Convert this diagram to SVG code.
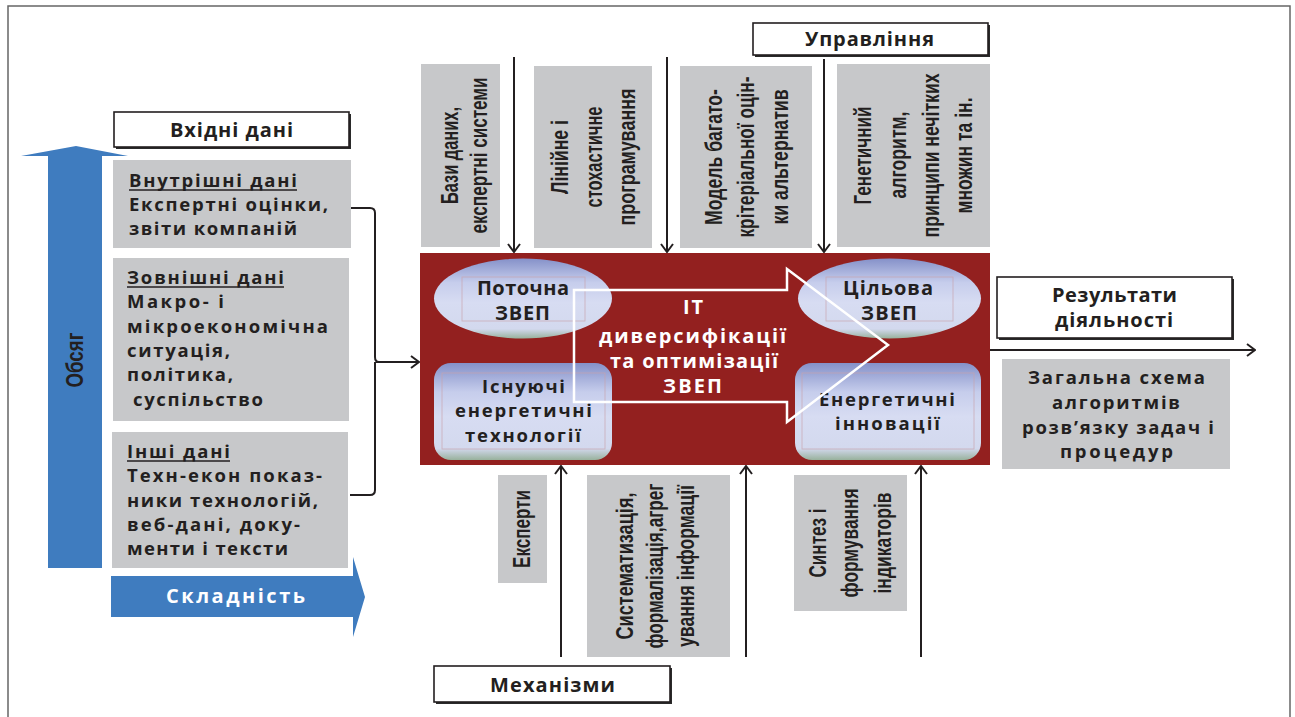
<svg xmlns="http://www.w3.org/2000/svg" width="1295" height="717" viewBox="0 0 1295 717">
<defs>
<style>
.t{font-family:"Open Sans","DejaVu Sans",sans-serif;font-weight:700;font-size:20px;fill:#231f20}
.s{font-size:18.5px}
.w{fill:#ffffff}
.r{font-family:"Liberation Sans",Arial,sans-serif;font-weight:700;font-size:23px;fill:#231f20}
.gray{fill:#c7c8ca}
.blue{fill:#3f7cbf}
.lbl{fill:#ffffff;stroke:#231f20;stroke-width:1.6}
.sh{fill:#2a2a2a}
.con{fill:none;stroke:#231f20;stroke-width:2}
.ul{stroke:#231f20;stroke-width:1.4}
.faint{fill:none;stroke:#c9a3ab;stroke-width:0.8;opacity:0.8}
</style>
<linearGradient id="bev" x1="0" y1="0" x2="0" y2="1">
<stop offset="0" stop-color="#8591c9"/>
<stop offset="0.3" stop-color="#c6cdec"/>
<stop offset="0.55" stop-color="#d7dcf2"/>
<stop offset="0.88" stop-color="#d3d9ee"/>
<stop offset="1" stop-color="#98b19c"/>
</linearGradient>
<marker id="ah" viewBox="0 0 10 14" refX="9" refY="7" markerWidth="10" markerHeight="14" markerUnits="userSpaceOnUse" orient="auto">
<path d="M1,1 L9,7 L1,13" fill="none" stroke="#231f20" stroke-width="2"/>
</marker>
</defs>
<rect width="1295" height="717" fill="#ffffff"/>
<rect x="8" y="6" width="1282" height="730" fill="none" stroke="#666" stroke-width="1.5"/>

<g id="vhidni">
<rect class="sh" x="116" y="114" width="235" height="35"/>
<rect class="lbl" x="114" y="112" width="235" height="35"/>
<text class="t" x="170" y="137" textLength="123">Вхідні дані</text>
</g>

<g id="obsyag">
<polygon class="blue" points="48,568 48,156 21,156 76,146 128,156 102,156 102,568"/>
<text class="r w" font-size="26" transform="translate(83,387.5) rotate(-90)" textLength="55" lengthAdjust="spacingAndGlyphs">Обсяг</text>
</g>

<g id="skladnist">
<polygon class="blue" points="111,576 353,576 353,557 365,597 353,637 353,617 111,617"/>
<text class="t w" font-size="23" x="166" y="603" textLength="139">Складність</text>
</g>

<g id="vnutrishni">
<rect class="gray" x="113" y="160" width="238" height="88"/>
<text class="t s" x="129" y="187" textLength="168">Внутрішні дані</text>
<line class="ul" x1="129" y1="190" x2="297" y2="190"/>
<text class="t s" x="129" y="211" textLength="199">Експертні оцінки,</text>
<text class="t s" x="129" y="235" textLength="168">звіти компаній</text>
</g>

<g id="zovnishni">
<rect class="gray" x="113" y="258" width="236" height="163"/>
<text class="t s" x="127" y="284" textLength="157">Зовнішні дані</text>
<line class="ul" x1="127" y1="287" x2="284" y2="287"/>
<text class="t s" x="127" y="308" textLength="97">Макро- і</text>
<text class="t s" x="127" y="333" textLength="201">мікроекономічна</text>
<text class="t s" x="127" y="357" textLength="103">ситуація,</text>
<text class="t s" x="127" y="381" textLength="106">політика,</text>
<text class="t s" x="133" y="406" textLength="130">суспільство</text>
</g>

<g id="inshi">
<rect class="gray" x="112" y="432" width="236" height="136"/>
<text class="t s" x="127" y="458" textLength="103">Інші дані</text>
<line class="ul" x1="127" y1="461" x2="230" y2="461"/>
<text class="t s" x="127" y="482" textLength="195">Техн-екон показ-</text>
<text class="t s" x="127" y="507" textLength="191">ники технологій,</text>
<text class="t s" x="127" y="531" textLength="173">веб-дані, доку-</text>
<text class="t s" x="127" y="555" textLength="161">менти і тексти</text>
</g>

<g id="upravlinnya">
<rect class="sh" x="755" y="25" width="235" height="32"/>
<rect class="lbl" x="753" y="23" width="235" height="32"/>
<text class="t" x="805" y="46" textLength="129">Управління</text>
</g>

<g id="bazy">
<rect class="gray" x="421" y="64" width="79" height="183"/>
<text class="r" transform="translate(458,204) rotate(-90)" textLength="97" lengthAdjust="spacingAndGlyphs">Бази даних,</text>
<text class="r" transform="translate(487,233.5) rotate(-90)" textLength="156" lengthAdjust="spacingAndGlyphs">експертні системи</text>
</g>

<g id="liniyne">
<rect class="gray" x="534" y="66" width="118" height="182"/>
<text class="r" transform="translate(568,194) rotate(-90)" textLength="74" lengthAdjust="spacingAndGlyphs">Лінійне і</text>
<text class="r" transform="translate(602,207.5) rotate(-90)" textLength="101" lengthAdjust="spacingAndGlyphs">стохастичне</text>
<text class="r" transform="translate(635,225.5) rotate(-90)" textLength="137" lengthAdjust="spacingAndGlyphs">програмування</text>
</g>

<g id="model">
<rect class="gray" x="680" y="66" width="132" height="182"/>
<text class="r" transform="translate(722,225) rotate(-90)" textLength="136" lengthAdjust="spacingAndGlyphs">Модель багато-</text>
<text class="r" transform="translate(754,237.5) rotate(-90)" textLength="161" lengthAdjust="spacingAndGlyphs">крітеріальної оцін-</text>
<text class="r" transform="translate(788,224.5) rotate(-90)" textLength="135" lengthAdjust="spacingAndGlyphs">ки альтернатив</text>
</g>

<g id="genetychnyi">
<rect class="gray" x="837" y="64" width="153" height="183"/>
<text class="r" transform="translate(871,204.5) rotate(-90)" textLength="98" lengthAdjust="spacingAndGlyphs">Генетичний</text>
<text class="r" transform="translate(906,198.5) rotate(-90)" textLength="87" lengthAdjust="spacingAndGlyphs">алгоритм,</text>
<text class="r" transform="translate(939,237.5) rotate(-90)" textLength="164" lengthAdjust="spacingAndGlyphs">принципи нечітких</text>
<text class="r" transform="translate(972,213.5) rotate(-90)" textLength="116" lengthAdjust="spacingAndGlyphs">множин та ін.</text>
</g>

<g id="it-block">
<rect x="420" y="253" width="570" height="212" fill="#93201f"/>
</g>

<g id="potochna">
<ellipse cx="523" cy="298.5" rx="89" ry="40" fill="url(#bev)"/>
<rect class="faint" x="462" y="277" width="123" height="44"/>
<text class="t" x="477" y="295" textLength="92">Поточна</text>
<text class="t" x="495" y="320" textLength="55">ЗВЕП</text>
</g>

<g id="isnuyuchi">
<rect x="434" y="363" width="178" height="97" rx="17" fill="url(#bev)"/>
<rect class="faint" x="442" y="373" width="163" height="76"/>
<text class="t s" x="482" y="393" textLength="83">Існуючі</text>
<text class="t s" x="455" y="417" textLength="137">енергетичні</text>
<text class="t s" x="465" y="442" textLength="116">технології</text>
</g>

<g id="tsilova">
<ellipse cx="889.5" cy="298.5" rx="91.5" ry="40" fill="url(#bev)"/>
<rect class="faint" x="826" y="277" width="127" height="44"/>
<text class="t" x="843" y="295" textLength="90">Цільова</text>
<text class="t" x="861" y="320" textLength="56">ЗВЕП</text>
</g>

<g id="innovatsii">
<rect x="795" y="363" width="186" height="97" rx="17" fill="url(#bev)"/>
<rect class="faint" x="802" y="373" width="172" height="76"/>
<text class="t s" x="819" y="406" textLength="136">Енергетичні</text>
<text class="t s" x="835" y="430" textLength="105">інновації</text>
</g>

<g id="it-arrow">
<polygon points="574,290 787,290 787,269 888,345 787,422 787,402 574,402" fill="none" stroke="#ffffff" stroke-width="2.5"/>
<text class="t w" font-size="21" x="683" y="314" textLength="20">IT</text>
<text class="t w" font-size="21" x="599" y="343" textLength="187">диверсифікації</text>
<text class="t w" font-size="21" x="610" y="368" textLength="168">та оптимізації</text>
<text class="t w" font-size="21" x="663" y="393" textLength="59">ЗВЕП</text>
</g>

<g id="rezultaty">
<rect class="sh" x="999" y="279" width="235" height="61"/>
<rect class="lbl" x="997" y="277" width="235" height="61"/>
<text class="t" x="1052" y="302" textLength="125">Результати</text>
<text class="t" x="1055" y="327" textLength="118">діяльності</text>
</g>

<g id="skhema">
<rect class="gray" x="1002" y="359" width="228" height="110"/>
<text class="t s" x="1028" y="384" textLength="177">Загальна схема</text>
<text class="t s" x="1052" y="409" textLength="128">алгоритмів</text>
<text class="t s" x="1022" y="434" textLength="192">розв’язку задач і</text>
<text class="t s" x="1060" y="458" textLength="113">процедур</text>
</g>

<g id="eksperty">
<rect class="gray" x="498" y="475" width="49" height="108"/>
<text class="r" transform="translate(530,568) rotate(-90)" textLength="78" lengthAdjust="spacingAndGlyphs">Експерти</text>
</g>

<g id="systematyzatsiya">
<rect class="gray" x="587" y="475" width="143" height="182"/>
<text class="r" transform="translate(633,639.5) rotate(-90)" textLength="147" lengthAdjust="spacingAndGlyphs">Систематизація,</text>
<text class="r" transform="translate(663,648.5) rotate(-90)" textLength="165" lengthAdjust="spacingAndGlyphs">формалізація,агрег</text>
<text class="r" transform="translate(694,647) rotate(-90)" textLength="162" lengthAdjust="spacingAndGlyphs">ування інформації</text>
</g>

<g id="syntez">
<rect class="gray" x="794" y="475" width="113" height="136"/>
<text class="r" transform="translate(826,577.5) rotate(-90)" textLength="69" lengthAdjust="spacingAndGlyphs">Синтез і</text>
<text class="r" transform="translate(858,597.5) rotate(-90)" textLength="109" lengthAdjust="spacingAndGlyphs">формування</text>
<text class="r" transform="translate(891,593.5) rotate(-90)" textLength="101" lengthAdjust="spacingAndGlyphs">індикаторів</text>
</g>

<g id="mekhanizmy">
<rect class="sh" x="436" y="668" width="236" height="36"/>
<rect class="lbl" x="434" y="666" width="236" height="36"/>
<text class="t" x="490" y="692" textLength="125">Механізми</text>
</g>

<g id="connectors">
<line class="con" x1="514" y1="57" x2="514" y2="252" marker-end="url(#ah)"/>
<line class="con" x1="667" y1="57" x2="667" y2="252" marker-end="url(#ah)"/>
<line class="con" x1="824" y1="59" x2="824" y2="252" marker-end="url(#ah)"/>
<line class="con" x1="561" y1="657" x2="561" y2="466" marker-end="url(#ah)"/>
<line class="con" x1="746" y1="657" x2="746" y2="466" marker-end="url(#ah)"/>
<line class="con" x1="921" y1="657" x2="921" y2="466" marker-end="url(#ah)"/>
<path class="con" d="M351,208 H370 Q375,208 375,213 V357 Q375,362 379,362 M375,362 Q375,367 375,371 V490 Q375,495 370,495 H350"/>
<line class="con" x1="376" y1="362" x2="419" y2="362" marker-end="url(#ah)"/>
<line class="con" x1="990" y1="350" x2="1255" y2="350" marker-end="url(#ah)"/>
</g>
</svg>
